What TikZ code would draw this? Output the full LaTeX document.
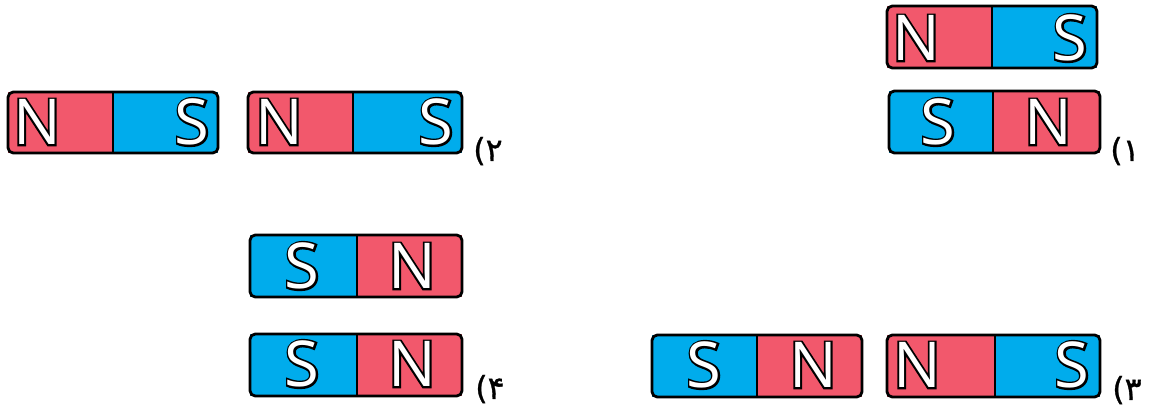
\documentclass[tikz,border=0pt]{standalone}
\usepackage{fontspec}
\newfontfamily\polefont{Open Sans}
\newfontfamily\poleedge[FakeBold=6]{Open Sans}
\newfontfamily\arabicfont[FakeBold=1]{DejaVu Sans}
\definecolor{nred}{RGB}{242,88,108}
\definecolor{sblue}{RGB}{0,172,236}
\newcommand\pole[1]{\makebox[0pt]{\poleedge\color{black}#1}\makebox[0pt]{\polefont\color{white}#1}}

\begin{document}
\begin{tikzpicture}[x=0.02cm, y=-0.02cm,
    npole/.style={fill=nred},
    spole/.style={fill=sblue},
    body/.style={draw=black, line width=1.6pt, rounded corners=3pt},
    split/.style={draw=black, line width=1.4pt},
    poleletter/.style={font=\fontsize{36}{36}\selectfont, inner sep=0pt},
    num/.style={font=\arabicfont\fontsize{18}{18}\selectfont, inner sep=0pt}]
  \useasboundingbox (0,0) rectangle (1149,407);

  % pair 2 (top left)
  \fill[npole] (8,92) rectangle (113,153);
  \fill[spole] (113,92) rectangle (218,153);
  \draw[body] (8,92) rectangle (218,153);
  \draw[split] (113,92) -- (113,153);
  \node[poleletter] (n2a) at (37,122) {\pole{N}};
  \node[poleletter] (s2a) at (192,122) {\pole{S}};

  \fill[npole] (248,92) rectangle (353,153);
  \fill[spole] (353,92) rectangle (462,153);
  \draw[body] (248,92) rectangle (462,153);
  \draw[split] (353,92) -- (353,153);
  \node[poleletter] (n2b) at (279,122) {\pole{N}};
  \node[poleletter] (s2b) at (436,122) {\pole{S}};
  \node[num] (l2) at (488,151) {(۲};

  % pair 1 (top right)
  \fill[npole] (887,6) rectangle (992,68);
  \fill[spole] (992,6) rectangle (1097,68);
  \draw[body] (887,6) rectangle (1097,68);
  \draw[split] (992,6) -- (992,68);
  \node[poleletter] (n1a) at (916,38) {\pole{N}};
  \node[poleletter] (s1a) at (1070,38) {\pole{S}};

  \fill[spole] (889,91) rectangle (993,153);
  \fill[npole] (993,91) rectangle (1100,153);
  \draw[body] (889,91) rectangle (1100,153);
  \draw[split] (993,91) -- (993,153);
  \node[poleletter] (s1b) at (938,122) {\pole{S}};
  \node[poleletter] (n1b) at (1048,122) {\pole{N}};
  \node[num] (l1) at (1125,151) {(۱};

  % pair 4 (bottom left)
  \fill[spole] (250,235) rectangle (357,297);
  \fill[npole] (357,235) rectangle (462,297);
  \draw[body] (250,235) rectangle (462,297);
  \draw[split] (357,235) -- (357,297);
  \node[poleletter] (s4a) at (302,266) {\pole{S}};
  \node[poleletter] (n4a) at (412,266) {\pole{N}};

  \fill[spole] (250,334) rectangle (357,396);
  \fill[npole] (357,334) rectangle (462,396);
  \draw[body] (250,334) rectangle (462,396);
  \draw[split] (357,334) -- (357,396);
  \node[poleletter] (s4b) at (302,364) {\pole{S}};
  \node[poleletter] (n4b) at (412,364) {\pole{N}};
  \node[num] (l4) at (490,389) {(۴};

  % pair 3 (bottom right)
  \fill[spole] (652,335) rectangle (757,397);
  \fill[npole] (757,335) rectangle (862,397);
  \draw[body] (652,335) rectangle (862,397);
  \draw[split] (757,335) -- (757,397);
  \node[poleletter] (s3a) at (704,365) {\pole{S}};
  \node[poleletter] (n3a) at (813,365) {\pole{N}};

  \fill[npole] (887,335) rectangle (995,397);
  \fill[spole] (995,335) rectangle (1100,397);
  \draw[body] (887,335) rectangle (1100,397);
  \draw[split] (995,335) -- (995,397);
  \node[poleletter] (n3b) at (917,365) {\pole{N}};
  \node[poleletter] (s3b) at (1072,365) {\pole{S}};
  \node[num] (l3) at (1127,390) {(۳};
\end{tikzpicture}
\end{document}
